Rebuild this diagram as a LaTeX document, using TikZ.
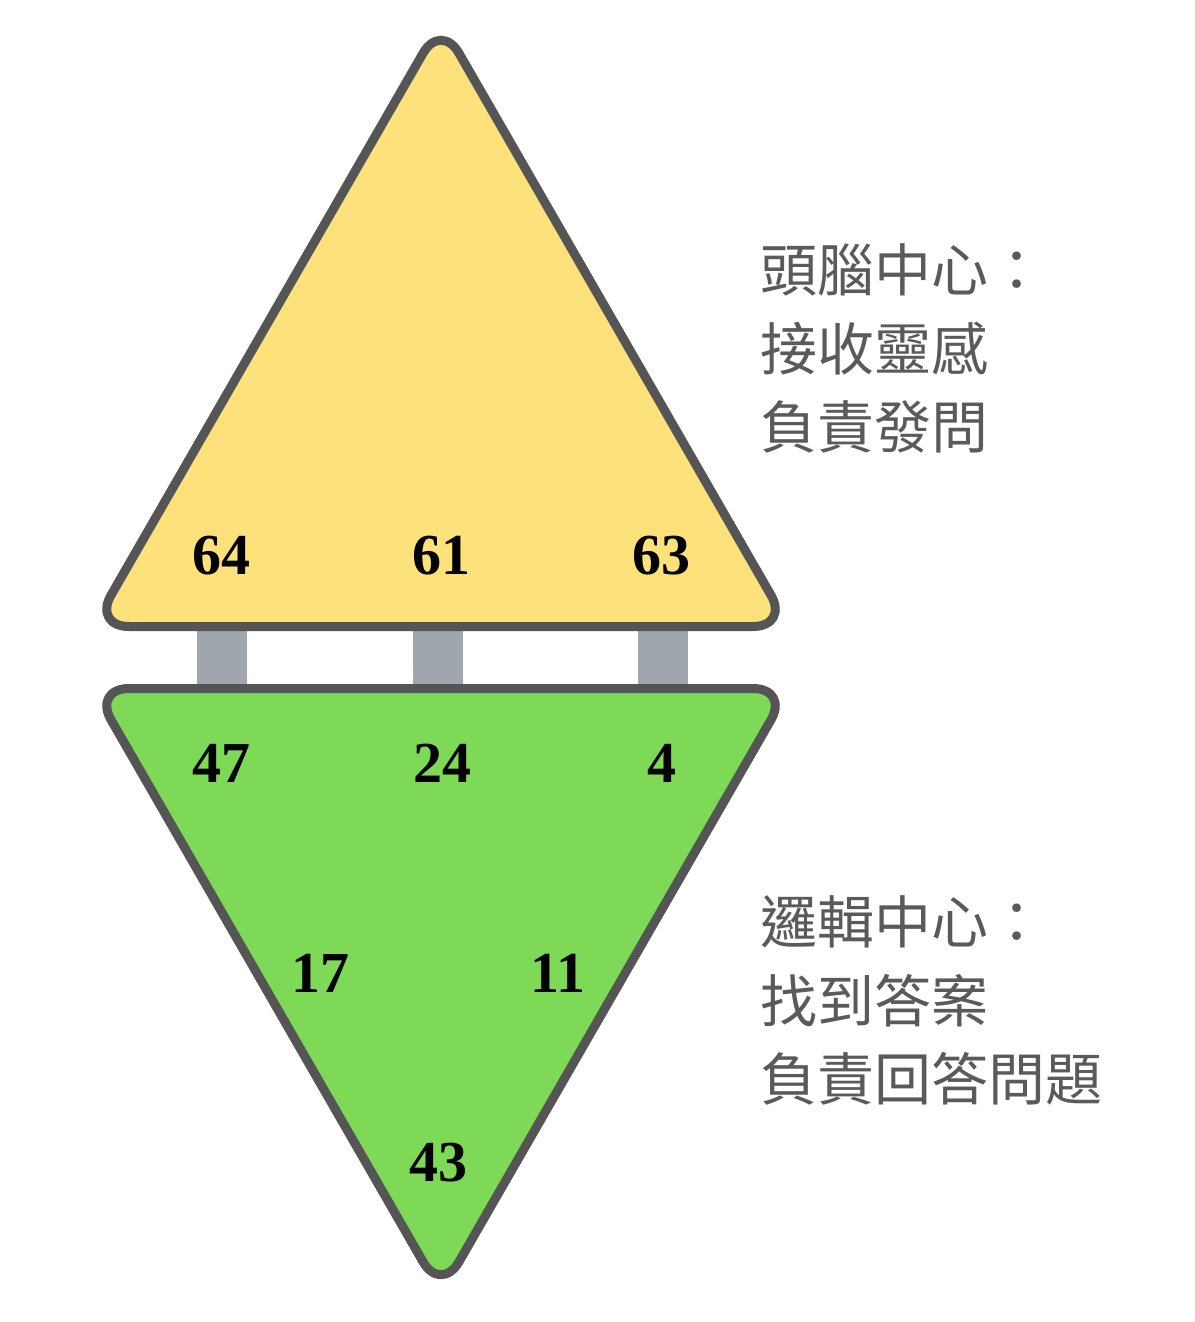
\documentclass[tikz,border=0pt]{standalone}
\usepackage{fontspec}
\setmainfont{Liberation Serif}
\newfontfamily\cjk{Noto Sans CJK TC}
\definecolor{topfill}{HTML}{FDE17B}
\definecolor{botfill}{HTML}{7ED957}
\definecolor{edge}{HTML}{555555}
\definecolor{linkgray}{HTML}{9FA6AD}
\definecolor{notegray}{HTML}{5A5A5A}
\begin{document}
\begin{tikzpicture}[x=1pt,y=-1pt,
  tri/.style={draw=edge,line width=9pt,line join=round,rounded corners=36pt},
  link/.style={draw=linkgray,line width=50pt},
  num/.style={inner sep=0pt,font=\bfseries\fontsize{58}{62}\selectfont,text=black},
  note/.style={inner sep=0pt,align=left,anchor=west,text=notegray,font=\cjk\fontsize{57}{78.5}\selectfont}]
\useasboundingbox (0,0) rectangle (1194,1322);
% connectors
\coordinate (t1) at (221.5,626);
\coordinate (b1) at (221.5,689);
\coordinate (t2) at (437.5,626);
\coordinate (b2) at (437.5,689);
\coordinate (t3) at (662.5,626);
\coordinate (b3) at (662.5,689);
\draw[link] (t1) -- (b1);
\draw[link] (t2) -- (b2);
\draw[link] (t3) -- (b3);
% triangles
\draw[tri,fill=topfill] (441,22) -- (789,626.5) -- (93,626.5) -- cycle;
\draw[tri,fill=botfill] (93,688.5) -- (789,688.5) -- (441,1293) -- cycle;
% numbers
\node[num] (n64) at (221,556) {64};
\node[num] (n61) at (441,556) {61};
\node[num] (n63) at (661,556) {63};
\node[num] (n47) at (221,763) {47};
\node[num] (n24) at (442,763) {24};
\node[num] (n4) at (662,763) {4};
\node[num] (n17) at (320,973) {17};
\node[num] (n11) at (558,973) {11};
\node[num] (n43) at (438,1163) {43};
% notes
\node[note] (brain) at (760,348.5) {頭腦中心：\\接收靈感\\負責發問};
\node[note] (logic) at (760,1000.5) {邏輯中心：\\找到答案\\負責回答問題};
\end{tikzpicture}
\end{document}
